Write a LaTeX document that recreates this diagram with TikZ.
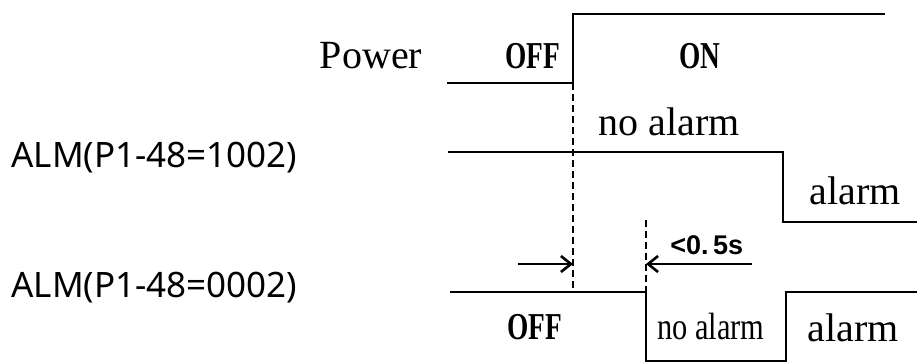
\documentclass[tikz,border=0pt]{standalone}
\usepackage{fontspec}
\usepackage{graphicx}
\setmainfont{Liberation Serif}
\newfontfamily\alfont{Noto Sans}
\newfontfamily\tfont{Liberation Sans}
\usetikzlibrary{arrows.meta}
\begin{document}
\begin{tikzpicture}[x=0.5pt,y=-0.5pt,
  sig/.style={line width=1.4pt, line join=miter},
  dsh/.style={line width=1.1pt, dash pattern=on 3.5pt off 2pt},
  arr/.style={line width=1.3pt, -{Straight Barb[length=5pt,width=8pt]}},
  lbl/.style={inner sep=0pt, anchor=base, font=\fontsize{20}{24}\selectfont},
  cnd/.style={inner sep=0pt, anchor=base},
  alm/.style={inner sep=0pt, anchor=base west, font=\alfont\fontsize{17.5}{20}\selectfont}]
\useasboundingbox (0,0) rectangle (917,363);
% Power waveform
\coordinate (p0) at (447,83);
\coordinate (p1) at (573,83);
\coordinate (p2) at (573,14);
\coordinate (p3) at (885,14);
\draw[sig] (p0) -- (p1) -- (p2) -- (p3);
% ALM 1002 waveform
\coordinate (a0) at (448,152);
\coordinate (a1) at (783,152);
\coordinate (a2) at (783,222);
\coordinate (a3) at (917,222);
\draw[sig] (a0) -- (a1) -- (a2) -- (a3);
% ALM 0002 waveform
\coordinate (b0) at (450,292);
\coordinate (b1) at (646,292);
\coordinate (b2) at (646,361);
\coordinate (b3) at (786,361);
\coordinate (b4) at (786,292);
\coordinate (b5) at (917,292);
\draw[sig] (b0) -- (b1) -- (b2) -- (b3) -- (b4) -- (b5);
% dashed markers
\coordinate (d1) at (573,292);
\coordinate (d2) at (646,220);
\draw[dsh] (p1) -- (d1);
\draw[dsh] (d2) -- (b1);
% arrows
\coordinate (l0) at (518,264);
\coordinate (l1) at (573,264);
\coordinate (r0) at (752,264);
\coordinate (r1) at (646,264);
\draw[arr] (l0) -- (l1);
\draw[arr] (r0) -- (r1);
% labels
\node[lbl] (power) at (371,69) {Power};
\node[cnd] (off1) at (533,69) {\scalebox{0.72}[1]{\fontsize{19}{22}\selectfont\bfseries OFF}};
\node[cnd] (on) at (700,69) {\scalebox{0.72}[1]{\fontsize{19}{22}\selectfont\bfseries ON}};
\node[lbl] (noal1) at (669,136) {no alarm};
\node[lbl, anchor=base west] (al1) at (809,205) {alarm};
\node[alm] (alm1) at (11,168) {ALM(P1-48=1002)};
\node[alm] (alm2) at (11,298) {ALM(P1-48=0002)};
\node[cnd, anchor=base west] (t05) at (670,255) {\tfont\fontsize{13.5}{16}\selectfont\bfseries <0.\,5s};
\node[cnd] (off2) at (535,340) {\scalebox{0.72}[1]{\fontsize{19}{22}\selectfont\bfseries OFF}};
\node[cnd] (noal2) at (711,340) {\scalebox{0.8}[1]{\fontsize{19}{22}\selectfont no alarm}};
\node[lbl, anchor=base west] (al2) at (807,342) {alarm};
\end{tikzpicture}
\end{document}
